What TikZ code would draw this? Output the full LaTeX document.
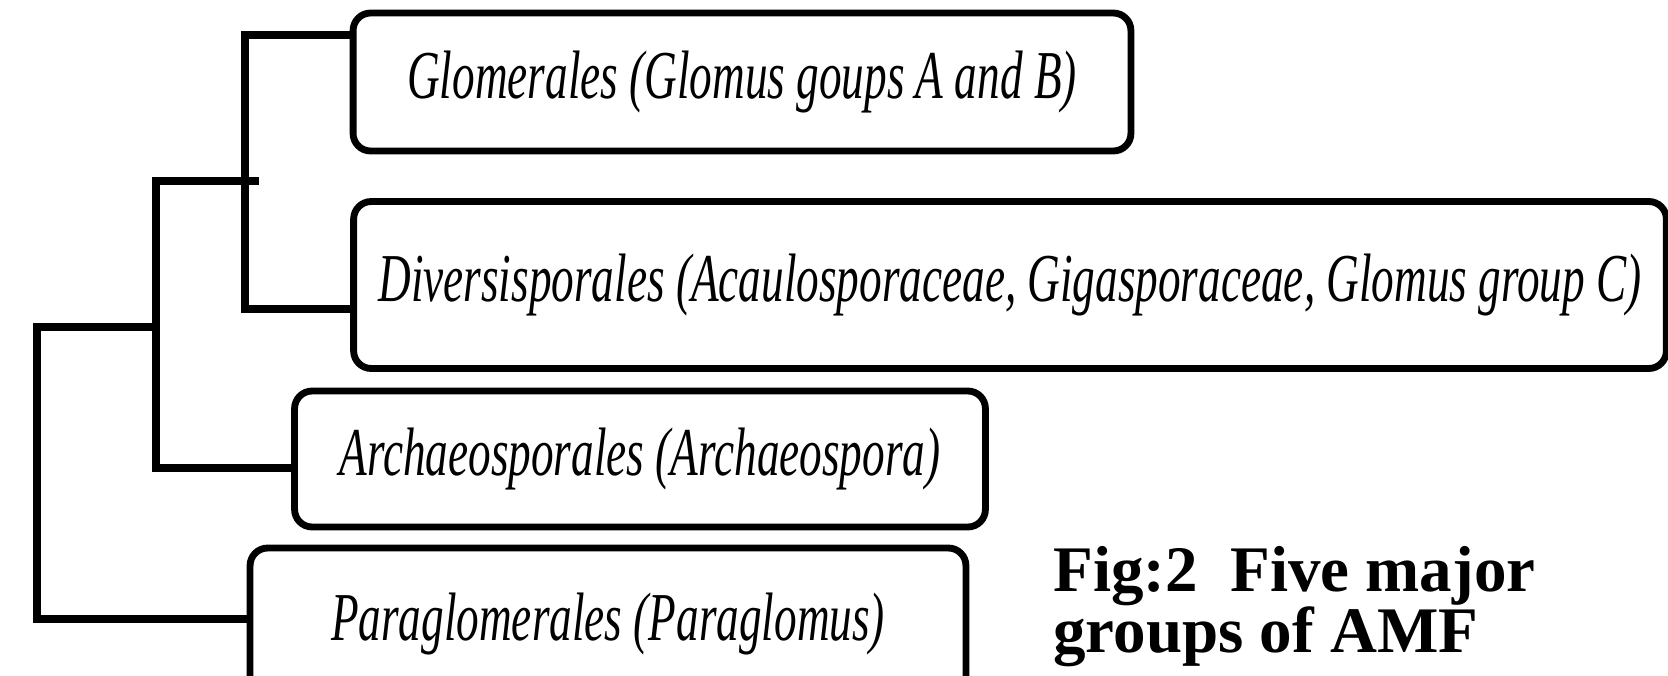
\documentclass[tikz,border=0pt]{standalone}
\usepackage{fontspec}
\setmainfont{Liberation Serif}
\newfontfamily\orderfont[FakeStretch=0.66]{Liberation Serif}
\usetikzlibrary{calc}

\begin{document}
\begin{tikzpicture}[x=0.02cm,y=-0.02cm,
  order/.style={draw=black,line width=3.9pt,rounded corners=10pt,
               font=\orderfont\itshape\fontsize{39}{42}\selectfont,
               inner sep=0pt,align=center},
  branch/.style={line width=4.4pt,black,line cap=rect},
  caption/.style={font=\bfseries\fontsize{37}{34.5}\selectfont,
                  inner sep=0pt,align=left}]
  \useasboundingbox (0,0) rectangle (1668,676);
  \node[order,minimum width=15.56cm,minimum height=2.76cm](glom) at (742,82)
    {Glomerales (Glomus goups A and B)};
  \node[order,minimum width=26.26cm,minimum height=3.34cm](divs) at (1010,285)
    {Diversisporales (Acaulosporaceae, Gigasporaceae, Glomus group C)};
  \node[order,minimum width=13.82cm,minimum height=2.72cm](arch) at (640,459)
    {Archaeosporales (Archaeospora)};
  \node[order,minimum width=14.32cm,minimum height=3.04cm](para) at (608,624)
    {Paraglomerales (Paraglomus)};
  % tree
  \coordinate (c1t) at (245,35);
  \coordinate (c1b) at (245,309);
  \coordinate (c2t) at (156,181);
  \coordinate (c2b) at (156,468);
  \coordinate (c3t) at (37,327);
  \coordinate (c3b) at (37,619);
  \draw[branch](glom.west |- c1t)--(c1t)--(c1b)--(divs.west |- c1b);
  \draw[branch]($(c1t |- c2t)+(10,0)$)--(c2t)--(c2b)--(arch.west |- c2b);
  \draw[branch](c2t |- c3t)--(c3t)--(c3b)--(para.west |- c3b);
  % caption
  \node[caption,anchor=north west](cap) at (1053,546)
    {Fig:2\ \ Five major\\groups of AMF};
\end{tikzpicture}
\end{document}
